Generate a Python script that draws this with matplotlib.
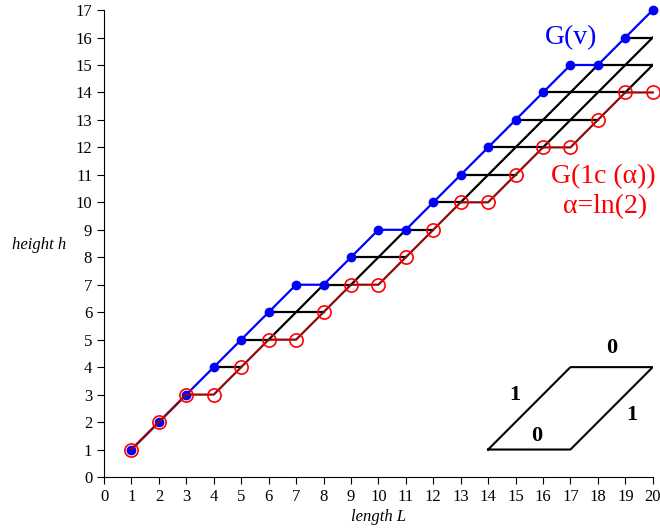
import numpy as np
from matplotlib import pyplot as plt

# path G(v): filled blue dots
blue_x = [1, 2, 3, 4, 5, 6, 7, 8, 9, 10, 11, 12, 13, 14, 15, 16, 17, 18, 19, 20]
blue_h = [1, 2, 3, 4, 5, 6, 7, 7, 8, 9, 9, 10, 11, 12, 13, 14, 15, 15, 16, 17]
# path G(1c(alpha)): open red circles
red_x = [1, 2, 3, 4, 5, 6, 7, 8, 9, 10, 11, 12, 13, 14, 15, 16, 17, 18, 19, 20]
red_h = [1, 2, 3, 3, 4, 5, 5, 6, 7, 7, 8, 9, 10, 10, 11, 12, 12, 13, 14, 14]

# small legend parallelogram (step shapes)
legend_x = [14, 17, 20, 17, 14]
legend_y = [1, 1, 4, 4, 1]
legend_labels = [("1", 14.97, 2.98), ("0", 18.5, 4.7), ("1", 19.23, 2.26), ("0", 15.77, 1.49)]

x_max = 20

plt.rcParams['font.family'] = ['Liberation Serif', 'DejaVu Serif']

fig = plt.figure(figsize=(6.6, 5.29), dpi=100)
ax = fig.add_axes([0.1576, 0.0983, 0.989 - 0.1576, 0.981 - 0.0983])

# black lattice lines between the two paths
bx = np.array(blue_x)
bh = np.array(blue_h)
rx = np.array(red_x)
rh = np.array(red_h)
for h in range(1, max(blue_h) + 1):
    left = bx[bh == h].max() if np.any(bh == h) else None
    right = rx[rh == h].min() if np.any(rh == h) else x_max
    if left is not None and left < right:
        ax.plot([left, right], [h, h], color='black', lw=1.6)
for c in range(0, x_max):
    if not np.any(rx - rh == c):
        continue
    lo = rx[rx - rh == c].max()
    hi = bx[bx - bh == c].min() if np.any(bx - bh == c) else x_max
    if lo < hi:
        ax.plot([lo, hi], [lo - c, hi - c], color='black', lw=1.6)

ax.plot(blue_x, blue_h, color='#0000ff', lw=1.6, marker='o', ms=6,
        mfc='#0000ff', mec='#0000ff', clip_on=False, zorder=3)
ax.plot(red_x, red_h, color='#8b0a0a', lw=1.6, marker='o', ms=9.5,
        mfc='none', mec='#ff0000', mew=1.2, clip_on=False, zorder=4)

ax.plot(legend_x, legend_y, color='black', lw=1.5)
for s, lx, ly in legend_labels:
    ax.text(lx, ly, s, fontsize=16, fontweight='bold', ha='center', va='center')

ax.text(17.01, 15.98, "G(v)", color='#0000ff', fontsize=20, ha='center', va='center')
ax.text(18.2, 10.92, "G(1c (α))", color='#ff0000', fontsize=20, ha='center', va='center')
ax.text(18.25, 9.83, "α=ln(2)", color='#ff0000', fontsize=20, ha='center', va='center')

ax.set_xlim(0, 20)
ax.set_ylim(0, 17)
ax.set_xticks(range(0, 21))
ax.set_yticks(range(0, 18))
ax.spines['top'].set_visible(False)
ax.spines['right'].set_visible(False)
ax.tick_params(labelsize=12, length=5, direction='out')
ax.set_xlabel("length L", fontstyle='italic', fontsize=12, labelpad=3)
ax.set_ylabel("height h", fontstyle='italic', fontsize=12, rotation=0, ha='center', va='center')
ax.yaxis.set_label_coords(-0.118, 0.497)

fig.savefig("out.png", dpi=100)
